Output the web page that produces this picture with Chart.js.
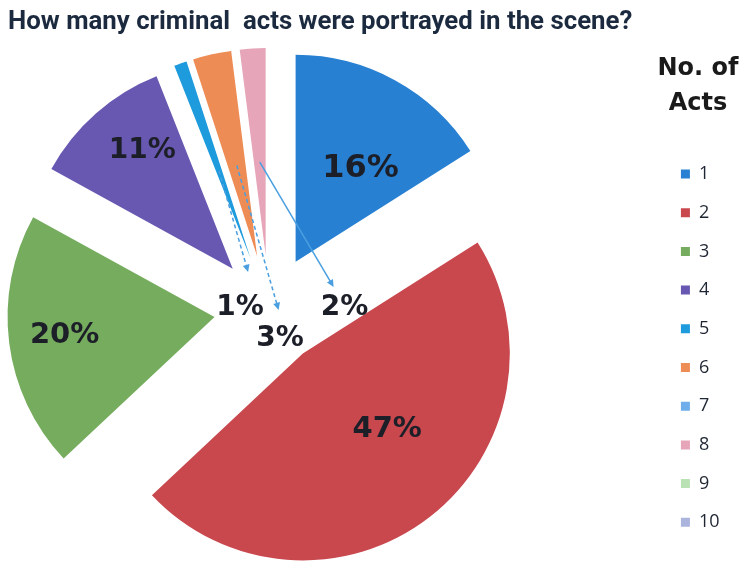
<!DOCTYPE html>
<html>
<head>
<meta charset="utf-8">
<script src="https://cdn.jsdelivr.net/npm/chart.js@4.4.1/dist/chart.umd.min.js"></script>
<style>
  html, body { margin: 0; padding: 0; background: #fff; }
  #wrap { position: relative; width: 745px; height: 565px; overflow: hidden; }
  #title {
    position: absolute; left: 8px; top: 5px; z-index: 1;
    font: bold 25.8px Roboto, "Liberation Sans", sans-serif;
    color: #1c2a3f; white-space: pre;
  }
  #legend-title {
    position: absolute; left: 648px; top: 50px; width: 100px; z-index: 1;
    font: bold 24px "DejaVu Sans", sans-serif; line-height: 35px;
    color: #1a1a1a; text-align: center;
  }
  /* the canvas is wider than the page so the pie sits left of centre */
  #chart { position: absolute; left: -122px; top: 0; }
</style>
</head>
<body>
<div id="wrap">
  <div id="title">How many criminal  acts were portrayed in the scene?</div>
  <div id="legend-title">No. of<br>Acts</div>
  <canvas id="chart" width="867" height="565"></canvas>
</div>
<script>
// number of criminal acts per scene, share of scenes in %
const acts = ['1', '2', '3', '4', '5', '6', '7', '8', '9', '10'];
const shares = [16, 47, 20, 11, 1, 3, 0, 2, 0, 0];
const sliceColors = ['#2880d2', '#c8484e', '#75ac5e', '#6858b2', '#1e9bdc',
                     '#ee8c55', '#6eafeb', '#e6a5b9', '#b9e1b4', '#aab4dc'];

// every slice is pulled out from the centre by this many pixels
const explodePx = 55;

// big slices: label inside along the (slightly turned) mid angle
// small slices: label near the centre, with a leader arrow from the slice
const labelStyle = [
    {frac: 0.55, turn: 6, size: 32},
    {frac: 0.55, turn: -10, size: 29},
    {frac: 0.73, turn: 0, size: 29},
    {frac: 0.72, turn: 4, size: 28},
    {dx: -29, dy: -2, tip: [8, -36], dash: true, size: 28},
    {dx: 11, dy: 28.5, tip: [-1.5, -28.5], dash: true, size: 28},
    null,
    {dx: 75.5, dy: -2.5, tip: [-11, -20.5], dash: false, size: 28},
    null,
    null
];

function pieCentre(chart) {
    const a = chart.chartArea;
    return {x: (a.left + a.right) / 2, y: (a.top + a.bottom) / 2};
}

const explodePlugin = {
    id: 'explode',
    beforeDatasetsDraw(chart) {
        const c = pieCentre(chart);
        chart.getDatasetMeta(0).data.forEach(arc => {
            const mid = (arc.startAngle + arc.endAngle) / 2;
            arc.x = c.x + Math.cos(mid) * explodePx;
            arc.y = c.y + Math.sin(mid) * explodePx;
        });
    }
};

function arrow(ctx, sx, sy, tx, ty, dashed) {
    const ang = Math.atan2(ty - sy, tx - sx);
    ctx.save();
    ctx.strokeStyle = '#4a9fe0';
    ctx.fillStyle = '#4a9fe0';
    ctx.lineWidth = 1.5;
    ctx.setLineDash(dashed ? [4, 3] : []);
    ctx.beginPath();
    ctx.moveTo(sx, sy);
    ctx.lineTo(tx - Math.cos(ang) * 5, ty - Math.sin(ang) * 5);
    ctx.stroke();
    ctx.setLineDash([]);
    ctx.beginPath();
    ctx.moveTo(tx, ty);
    ctx.lineTo(tx - Math.cos(ang - 0.45) * 8, ty - Math.sin(ang - 0.45) * 8);
    ctx.lineTo(tx - Math.cos(ang + 0.45) * 8, ty - Math.sin(ang + 0.45) * 8);
    ctx.closePath();
    ctx.fill();
    ctx.restore();
}

const percentLabels = {
    id: 'percentLabels',
    afterDatasetsDraw(chart) {
        const ctx = chart.ctx;
        const c = pieCentre(chart);
        chart.getDatasetMeta(0).data.forEach((arc, i) => {
            const v = shares[i];
            const s = labelStyle[i];
            if (!v || !s) {
                return;
            }
            const mid = (arc.startAngle + arc.endAngle) / 2;
            let x, y;
            if (s.frac) {
                const a = mid + s.turn * Math.PI / 180;
                x = arc.x + Math.cos(a) * arc.outerRadius * s.frac;
                y = arc.y + Math.sin(a) * arc.outerRadius * s.frac;
            } else {
                x = c.x + s.dx;
                y = c.y + s.dy;
                const sx = arc.x + Math.cos(mid) * arc.outerRadius * 0.45;
                const sy = arc.y + Math.sin(mid) * arc.outerRadius * 0.45;
                arrow(ctx, sx, sy, x + s.tip[0], y + s.tip[1], s.dash);
            }
            ctx.save();
            ctx.font = 'bold ' + s.size + 'px "DejaVu Sans"';
            ctx.fillStyle = '#1d1f28';
            ctx.textAlign = 'center';
            ctx.textBaseline = 'middle';
            ctx.fillText(v + '%', x, y);
            ctx.restore();
        });
    }
};

new Chart(document.getElementById('chart'), {
    type: 'pie',
    data: {
        labels: acts,
        datasets: [{
            data: shares,
            backgroundColor: sliceColors,
            borderWidth: 0,
            hoverOffset: 0,
            clip: false
        }]
    },
    options: {
        responsive: false,
        animation: false,
        radius: 207,
        layout: {
            padding: {left: 0, top: 68, right: 15.5, bottom: 13}
        },
        plugins: {
            legend: {
                position: 'right',
                align: 'end',
                labels: {
                    boxWidth: 9,
                    boxHeight: 9,
                    padding: 20.7,
                    color: '#1f2633',
                    font: {family: 'Open Sans', size: 18}
                }
            },
            tooltip: {
                callbacks: {
                    label(context) {
                        return ' ' + context.parsed + '%';
                    }
                }
            }
        }
    },
    plugins: [explodePlugin, percentLabels]
});
</script>
</body>
</html>
